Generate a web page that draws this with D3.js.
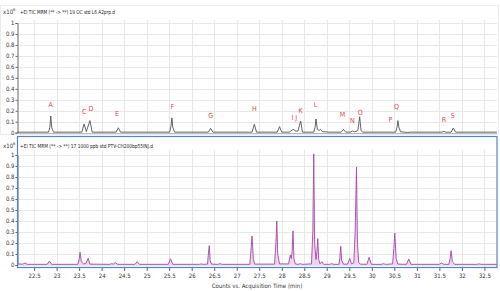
<html>
<head>
<meta charset="utf-8">
<script src="https://d3js.org/d3.v7.min.js"></script>
<style>
  body { margin: 0; background: #fff; }
  text { font-family: "DejaVu Sans Condensed", "Liberation Sans Narrow", "DejaVu Sans", sans-serif; }
</style>
</head>
<body>
<div id="chart"></div>
<script>
// top trace (19 OC std), time in minutes, counts in x10^6
var topTime = [22.12, 22.82, 22.85, 22.87, 22.89, 22.93, 23.56, 23.61, 23.66, 23.74, 23.79,
  24.32, 24.37, 24.42, 25.51, 25.54, 25.56, 25.58, 25.62, 26.37, 26.42, 26.47,
  27.34, 27.39, 27.44, 27.9, 27.95, 28.0, 28.17, 28.23, 28.27, 28.3, 28.36, 28.42, 28.46,
  28.71, 28.74, 28.76, 28.79, 28.83, 28.86, 28.9, 29.05, 29.32, 29.37, 29.42,
  29.52, 29.57, 29.62, 29.69, 29.71, 29.73, 29.76, 29.8, 30.53, 30.56, 30.58, 30.6, 30.64,
  30.8, 30.85, 31.55, 31.6, 31.65, 31.76, 31.81, 31.86, 32.78];
var topValue = [0.005, 0.005, 0.05, 0.152, 0.05, 0.005, 0.005, 0.08, 0.01, 0.11, 0.005,
  0.005, 0.045, 0.005, 0.005, 0.06, 0.135, 0.05, 0.005, 0.005, 0.04, 0.005,
  0.005, 0.077, 0.005, 0.005, 0.055, 0.005, 0.005, 0.025, 0.03, 0.015, 0.015, 0.107, 0.005,
  0.005, 0.05, 0.125, 0.03, 0.02, 0.03, 0.01, 0.005, 0.005, 0.03, 0.005,
  0.005, 0.015, 0.008, 0.02, 0.08, 0.146, 0.02, 0.005, 0.005, 0.05, 0.11, 0.05, 0.008,
  0.002, 0.005, 0.005, 0.012, 0.004, 0.005, 0.043, 0.005, 0.005];

// peak letters on the top trace
var peakNames = ["A", "C", "D", "E", "F", "G", "H", "I J", "K", "L", "M", "N", "O", "P", "Q", "R", "S"];
var peakTime = [22.87, 23.61, 23.76, 24.34, 25.57, 26.42, 27.39, 28.28, 28.42, 28.75, 29.35, 29.57, 29.74, 30.41, 30.55, 31.6, 31.8];
var peakLabelY = [0.234, 0.173, 0.198, 0.15, 0.219, 0.134, 0.195, 0.113, 0.18, 0.234, 0.146, 0.091, 0.159, 0.098, 0.219, 0.098, 0.137];

// bottom trace (17 1000 ppb std)
var botTime = [22.12, 22.25, 22.3, 22.35, 22.79, 22.84, 22.89,
  23.47, 23.5, 23.52, 23.55, 23.6, 23.65, 23.7, 23.74,
  24.18, 24.22, 24.26, 24.3, 24.36, 24.74, 24.79, 24.84, 25.48, 25.53, 25.58,
  26.17, 26.21, 26.25, 26.35, 26.37, 26.39, 26.41, 26.44, 26.58, 26.63, 26.68,
  27.29, 27.31, 27.34, 27.37, 27.4, 27.84, 27.87, 27.89, 27.91, 27.95,
  28.15, 28.19, 28.21, 28.23, 28.25, 28.27, 28.3, 28.36, 28.41, 28.46,
  28.66, 28.69, 28.71, 28.73, 28.76, 28.78, 28.8, 28.82, 28.85, 28.89, 28.93,
  29.06, 29.11, 29.16, 29.27, 29.29, 29.31, 29.33, 29.37, 29.46, 29.51, 29.55,
  29.6, 29.63, 29.66, 29.68, 29.71, 29.75, 29.89, 29.94, 29.99, 30.21, 30.26, 30.31,
  30.46, 30.49, 30.51, 30.54, 30.58, 30.77, 30.82, 30.87, 31.5, 31.55, 31.6,
  31.71, 31.74, 31.76, 31.79, 31.84, 32.33, 32.38, 32.43, 32.78];
var botValue = [0.01, 0.008, 0.018, 0.006, 0.006, 0.036, 0.006,
  0.006, 0.05, 0.115, 0.03, 0.01, 0.015, 0.06, 0.008,
  0.006, 0.012, 0.008, 0.022, 0.006, 0.006, 0.03, 0.006, 0.006, 0.057, 0.006,
  0.006, 0.01, 0.006, 0.008, 0.1, 0.176, 0.04, 0.008, 0.006, 0.012, 0.006,
  0.006, 0.1, 0.264, 0.05, 0.008, 0.008, 0.2, 0.4, 0.1, 0.01,
  0.01, 0.09, 0.06, 0.12, 0.31, 0.06, 0.01, 0.006, 0.012, 0.006,
  0.01, 0.3, 1.01, 0.2, 0.05, 0.12, 0.24, 0.05, 0.01, 0.03, 0.006,
  0.006, 0.012, 0.006, 0.006, 0.07, 0.17, 0.04, 0.008, 0.008, 0.06, 0.01,
  0.02, 0.3, 0.89, 0.2, 0.02, 0.008, 0.006, 0.07, 0.006, 0.006, 0.012, 0.006,
  0.01, 0.15, 0.29, 0.06, 0.008, 0.006, 0.055, 0.006, 0.006, 0.02, 0.006,
  0.006, 0.06, 0.13, 0.03, 0.006, 0.006, 0.01, 0.006, 0.006];

var yTicks = [0, 0.1, 0.2, 0.3, 0.4, 0.5, 0.6, 0.7, 0.8, 0.9, 1];
var xTicks = [22.5, 23, 23.5, 24, 24.5, 25, 25.5, 26, 26.5, 27, 27.5, 28, 28.5, 29, 29.5, 30, 30.5, 31, 31.5, 32, 32.5];

var width = 500, height = 291;
var svg = d3.select("#chart").append("svg")
  .attr("width", width).attr("height", height);

var x = d3.scaleLinear().domain([22.12, 32.78]).range([17, 497]);
var yTop = d3.scaleLinear().domain([0, 1]).range([132.7, 23]);
var yBot = d3.scaleLinear().domain([0, 1]).range([265, 155]);

function panel(y, gridTop, gridBottom, titleY, title, titleLen) {
  var g = svg.append("g");
  // grid
  g.selectAll(".hg").data(yTicks).enter().append("line")
    .attr("x1", 17).attr("x2", 497)
    .attr("y1", function(d) { return Math.round(y(d)) + 0.5; })
    .attr("y2", function(d) { return Math.round(y(d)) + 0.5; })
    .attr("stroke", "#e8e8e8");
  g.selectAll(".vg").data(xTicks).enter().append("line")
    .attr("x1", function(d) { return Math.round(x(d)) + 0.5; })
    .attr("x2", function(d) { return Math.round(x(d)) + 0.5; })
    .attr("y1", gridTop).attr("y2", gridBottom)
    .attr("stroke", "#e8e8e8");
  // y axis
  var ax = g.append("g").attr("transform", "translate(17.5,0)")
    .call(d3.axisLeft(y).tickValues(yTicks).tickSize(2).tickFormat(d3.format("~g")));
  ax.select(".domain").attr("stroke", "#666");
  ax.selectAll(".tick line").attr("stroke", "#666");
  ax.selectAll("text").attr("font-size", 6).attr("fill", "#333")
    .style("font-family", "'DejaVu Sans Condensed', sans-serif").attr("x", -3);
  // title
  g.append("text").attr("x", 3).attr("y", titleY).attr("font-size", 6).attr("fill", "#333").text("x10");
  g.append("text").attr("x", 13).attr("y", titleY - 3).attr("font-size", 4).attr("fill", "#333").text("6");
  g.append("text").attr("x", 20).attr("y", titleY).attr("font-size", 5.5).attr("fill", "#222")
    .attr("textLength", titleLen).attr("lengthAdjust", "spacingAndGlyphs").text(title);
  return g;
}

// top panel frame
svg.append("rect").attr("x", 0.5).attr("y", 5.5).attr("width", 498).attr("height", 129)
  .attr("fill", "none").attr("stroke", "#ececec");
panel(yTop, 20, 133, 14, "+EI TIC MRM (** -> **) 19 OC std L6 A2prp.d", 95);
svg.append("line").attr("x1", 17).attr("x2", 497).attr("y1", 133.5).attr("y2", 133.5).attr("stroke", "#bbb");

panel(yBot, 150, 267, 148, "+EI TIC MRM (** -> **) 17 1000 ppb std PTV-CH200bp55INJ.d", 133);

var line = d3.line();
var topPts = topTime.map(function(t, i) { return [x(t), yTop(topValue[i])]; });
svg.append("path").attr("d", line(topPts))
  .attr("fill", "none").attr("stroke", "#555").attr("stroke-width", 0.9);

svg.selectAll(".plab").data(peakNames).enter().append("text")
  .attr("x", function(d, i) { return x(peakTime[i]); })
  .attr("y", function(d, i) { return yTop(peakLabelY[i]); })
  .attr("text-anchor", "middle").attr("font-size", 7).attr("fill", "#e5484d")
  .text(function(d) { return d; });

var botPts = botTime.map(function(t, i) { return [x(t), yBot(botValue[i])]; });
var area = d3.area().x(function(d) { return d[0]; }).y0(yBot(0)).y1(function(d) { return d[1]; });
svg.append("path").attr("d", area(botPts)).attr("fill", "#efd3ef");
svg.append("path").attr("d", line(botPts))
  .attr("fill", "none").attr("stroke", "#a24aa6").attr("stroke-width", 0.9);

// bottom frame (blue)
svg.append("rect").attr("x", 17.5).attr("y", 136.5).attr("width", 479.5).attr("height", 131)
  .attr("fill", "none").attr("stroke", "#4f86cf").attr("stroke-width", 1.2);

// x axis
var xa = svg.append("g").attr("transform", "translate(0,268)")
  .call(d3.axisBottom(x).tickValues(xTicks).tickSize(3).tickFormat(d3.format("~g")));
xa.select(".domain").remove();
xa.selectAll(".tick line").attr("stroke", "#666");
xa.selectAll("text").attr("font-size", 6).attr("fill", "#333")
  .style("font-family", "'DejaVu Sans Condensed', sans-serif");

svg.append("text").attr("x", 257).attr("y", 288).attr("text-anchor", "middle")
  .attr("font-size", 6).attr("fill", "#333").text("Counts vs. Acquisition Time (min)");
</script>
</body>
</html>
